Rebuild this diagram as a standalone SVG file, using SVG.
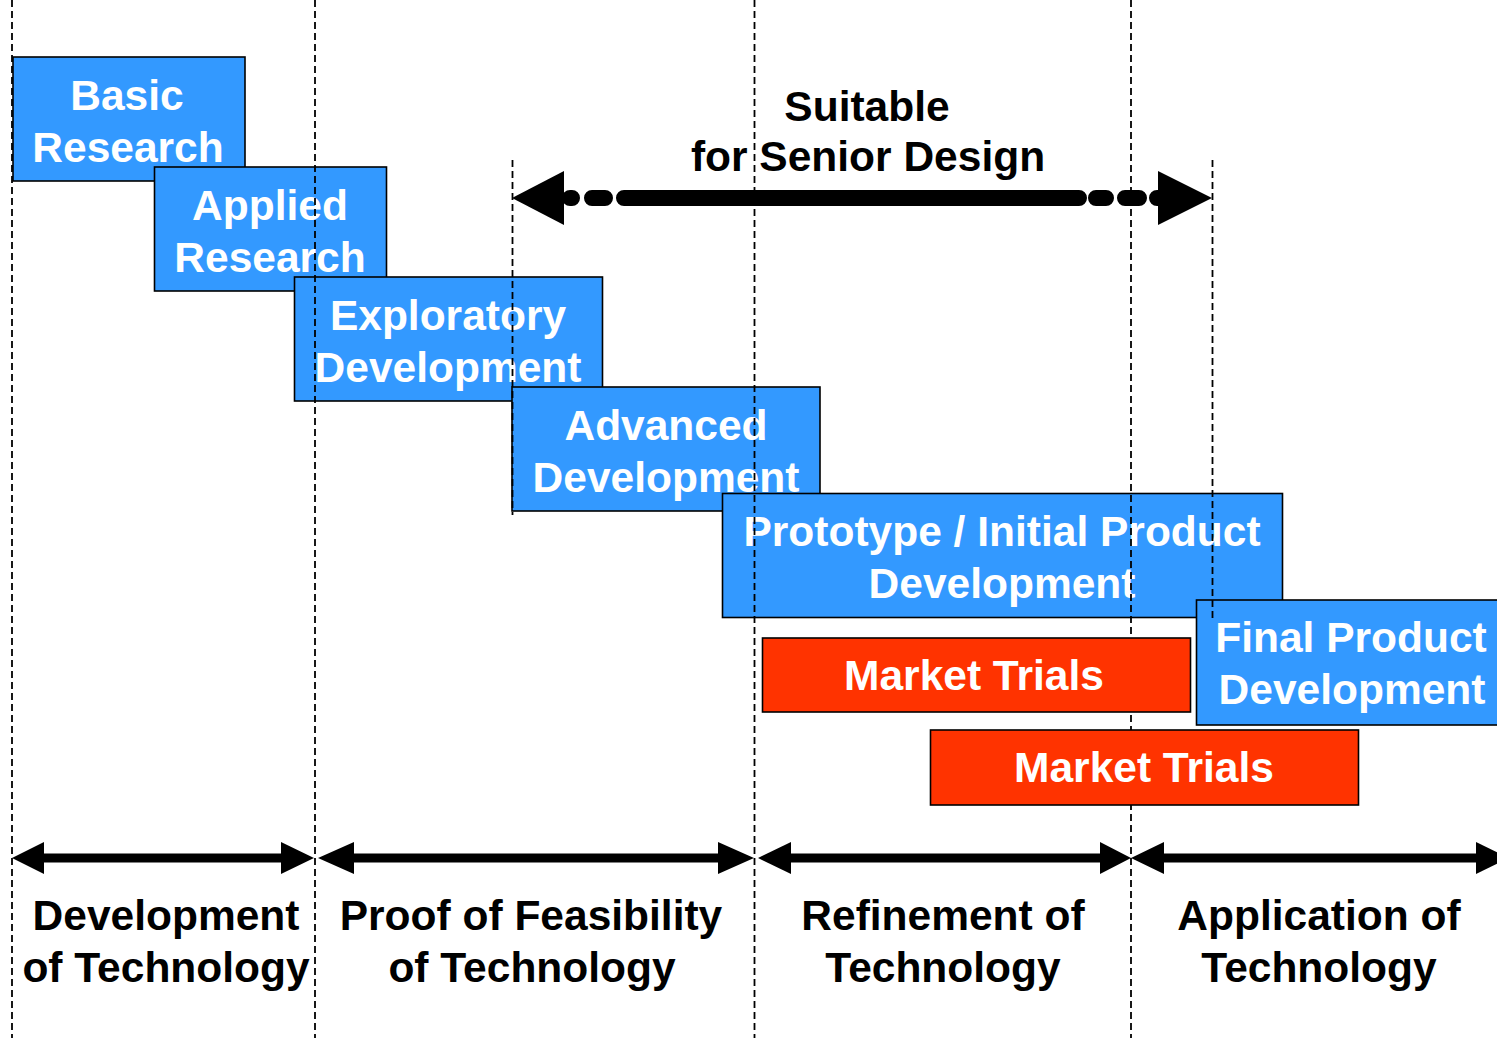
<svg xmlns="http://www.w3.org/2000/svg" width="1497" height="1038" viewBox="0 0 1497 1038">
<style>
text{font-family:"Liberation Sans",Arial,sans-serif;font-weight:bold;font-size:42.5px;text-anchor:middle}
.w{fill:#fff}
.k{fill:#000}
.blue{fill:#3399FF;stroke:#000;stroke-width:1.6}
.red{fill:#FF3300;stroke:#000;stroke-width:1.6}
.dash{stroke:#000;stroke-width:1.8;stroke-dasharray:7 4;fill:none}
.shaft{stroke:#000;stroke-width:9;fill:none}
</style>
<rect x="0" y="0" width="1497" height="1038" fill="#fff"/>

<g id="basic-research">
<rect class="blue" x="13" y="57" width="232" height="124"/>
<text class="w" x="127" y="110">Basic</text>
<text class="w" x="128" y="162">Research</text>
</g>
<g id="applied-research">
<rect class="blue" x="154.5" y="167" width="232" height="124"/>
<text class="w" x="270" y="220">Applied</text>
<text class="w" x="270" y="272">Research</text>
</g>
<g id="exploratory-development">
<rect class="blue" x="294.5" y="277" width="308" height="124"/>
<text class="w" x="448" y="330">Exploratory</text>
<text class="w" x="448" y="382">Development</text>
</g>
<g id="advanced-development">
<rect class="blue" x="512" y="387" width="308" height="124"/>
<text class="w" x="666" y="440">Advanced</text>
<text class="w" x="666" y="492">Development</text>
</g>
<g id="prototype-development">
<rect class="blue" x="722.5" y="493.5" width="560" height="124"/>
<text class="w" x="1002" y="546">Prototype / Initial Product</text>
<text class="w" x="1002" y="598">Development</text>
</g>
<g id="final-product-development">
<rect class="blue" x="1196.5" y="600" width="320" height="125"/>
<text class="w" x="1351" y="652">Final Product</text>
<text class="w" x="1352" y="704">Development</text>
</g>

<g id="dividers">
<line class="dash" x1="12" y1="0" x2="12" y2="1038"/>
<line class="dash" x1="315" y1="0" x2="315" y2="1038"/>
<line class="dash" x1="754.5" y1="0" x2="754.5" y2="1038"/>
<line class="dash" x1="1131" y1="0" x2="1131" y2="1038"/>
<line class="dash" x1="512.5" y1="160" x2="512.5" y2="515"/>
<line class="dash" x1="1212.5" y1="160" x2="1212.5" y2="618"/>
</g>

<g id="market-trials-1">
<rect class="red" x="762.5" y="638" width="428" height="74"/>
<text class="w" x="974" y="690">Market Trials</text>
</g>
<g id="market-trials-2">
<rect class="red" x="930.5" y="730" width="428" height="75"/>
<text class="w" x="1144" y="782">Market Trials</text>
</g>

<g id="senior-design-label">
<text class="k" x="867" y="121">Suitable</text>
<text class="k" x="868" y="171">for Senior Design</text>
</g>

<g id="connectors">
<path d="M570 198H572M592 198H605M624 198H1079M1096 198H1106M1125 198H1139M1157 198H1160" stroke="#000" stroke-width="16" stroke-linecap="round" fill="none"/>
<polygon class="k" points="512,198 564,171 564,225"/>
<polygon class="k" points="1212,198 1158,171 1158,225"/>

<line class="shaft" x1="40" y1="858" x2="285" y2="858"/>
<polygon class="k" points="12,858 44,842 44,874"/>
<polygon class="k" points="314,858 281,842 281,874"/>

<line class="shaft" x1="350" y1="858" x2="722" y2="858"/>
<polygon class="k" points="318,858 354,842 354,874"/>
<polygon class="k" points="754,858 718,842 718,874"/>

<line class="shaft" x1="788" y1="858" x2="1104" y2="858"/>
<polygon class="k" points="758,858 791,842 791,874"/>
<polygon class="k" points="1131,858 1100,842 1100,874"/>

<line class="shaft" x1="1160" y1="858" x2="1480" y2="858"/>
<polygon class="k" points="1131,858 1164,842 1164,874"/>
<polygon class="k" points="1509,858 1476,842 1476,874"/>
</g>

<g id="phase-labels">
<text class="k" x="166" y="930">Development</text>
<text class="k" x="166" y="982">of Technology</text>
<text class="k" x="531" y="930">Proof of Feasibility</text>
<text class="k" x="532" y="982">of Technology</text>
<text class="k" x="943" y="930">Refinement of</text>
<text class="k" x="943" y="982">Technology</text>
<text class="k" x="1319" y="930">Application of</text>
<text class="k" x="1319" y="982">Technology</text>
</g>
</svg>
